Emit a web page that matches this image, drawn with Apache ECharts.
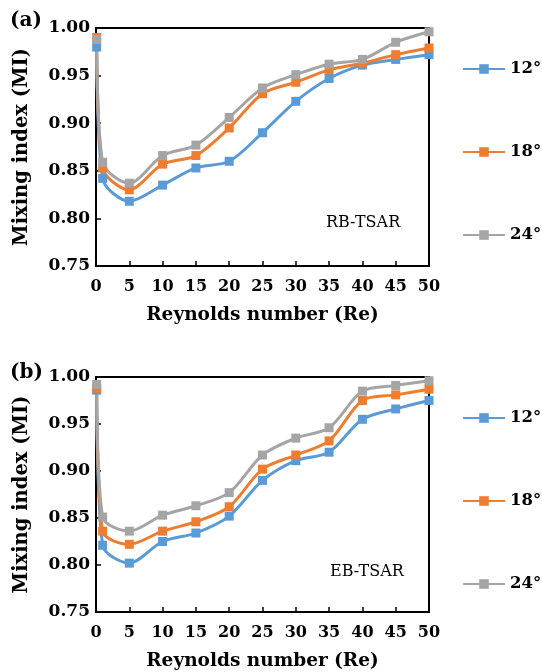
<!DOCTYPE html>
<html>
<head>
<meta charset="utf-8">
<script src="https://cdn.jsdelivr.net/npm/echarts@6/dist/echarts.min.js"></script>
<style>
html,body{margin:0;padding:0;background:#fff;}
#chart{width:542px;height:672px;}
</style>
</head>
<body>
<div id="chart"></div>
<script>
// data
var re = [0.1, 1, 5, 10, 15, 20, 25, 30, 35, 40, 45, 50];
var angles = ['12°', '18°', '24°'];
var xTicks = [0, 5, 10, 15, 20, 25, 30, 35, 40, 45, 50];
var yTicks = [0.75, 0.80, 0.85, 0.90, 0.95, 1.00];

var rb12 = [0.980, 0.842, 0.818, 0.835, 0.853, 0.860, 0.890, 0.923, 0.947, 0.961, 0.967, 0.972];
var rb18 = [0.990, 0.853, 0.830, 0.857, 0.866, 0.895, 0.931, 0.943, 0.956, 0.963, 0.972, 0.979];
var rb24 = [0.988, 0.859, 0.837, 0.866, 0.877, 0.906, 0.937, 0.951, 0.962, 0.967, 0.985, 0.996];

var eb12 = [0.986, 0.821, 0.802, 0.825, 0.834, 0.852, 0.890, 0.911, 0.920, 0.955, 0.966, 0.975];
var eb18 = [0.988, 0.836, 0.822, 0.836, 0.846, 0.862, 0.902, 0.917, 0.932, 0.975, 0.981, 0.987];
var eb24 = [0.992, 0.851, 0.836, 0.853, 0.863, 0.877, 0.917, 0.935, 0.946, 0.985, 0.991, 0.996];

(function(){
    var myChart = echarts.init(document.getElementById('chart'));
    var colors = ['#5b9bd5', '#ed7d31', '#a5a5a5'];
    var font = 'DejaVu Serif';

    function pairs(ys){
        return re.map(function(x, i){ return [x, ys[i]]; });
    }

    function xAxis(idx){
        return {
            type: 'value', gridIndex: idx,
            min: xTicks[0], max: xTicks[xTicks.length - 1], interval: 5,
            name: 'Reynolds number (Re)', nameLocation: 'middle', nameGap: 40,
            nameTextStyle: {color: '#000', fontFamily: font, fontWeight: 'bold', fontSize: 18.5},
            axisLine: {lineStyle: {color: '#000', width: 2}},
            axisTick: {inside: true, length: 5, lineStyle: {color: '#000', width: 1.5}},
            axisLabel: {color: '#000', fontFamily: font, fontWeight: 'bold', fontSize: 16, margin: 13},
            splitLine: {show: false}
        };
    }

    function yAxis(idx){
        return {
            type: 'value', gridIndex: idx,
            min: yTicks[0], max: yTicks[yTicks.length - 1], interval: 0.05,
            name: 'Mixing index (MI)', nameLocation: 'middle', nameGap: 64, nameRotate: 90,
            nameTextStyle: {color: '#000', fontFamily: font, fontWeight: 'bold', fontSize: 19.5},
            axisLine: {lineStyle: {color: '#000', width: 2}},
            axisTick: {inside: true, length: 5, lineStyle: {color: '#000', width: 1.5}},
            axisLabel: {
                color: '#000', fontFamily: font, fontWeight: 'bold', fontSize: 17, margin: 6,
                formatter: function(v){ return v.toFixed(2); }
            },
            splitLine: {show: false}
        };
    }

    function line(name, ys, c, idx){
        return {
            name: name, type: 'line', xAxisIndex: idx, yAxisIndex: idx,
            data: pairs(ys), smooth: 0.3,
            symbol: 'rect', symbolSize: 9,
            lineStyle: {color: c, width: 3},
            itemStyle: {color: c}
        };
    }

    function legend(top){
        return {
            data: angles, orient: 'vertical', left: 457, top: top,
            itemWidth: 42, itemHeight: 12, itemGap: 63,
            textStyle: {color: '#000', fontFamily: font, fontWeight: 'bold', fontSize: 16.5, lineHeight: 20}
        };
    }

    var option = {
        animation: false,
        legend: [legend(54), legend(403)],
        grid: [
            {left: 96, top: 28, width: 333, height: 238, show: true, borderColor: '#000', borderWidth: 2},
            {left: 96, top: 377, width: 333, height: 238, show: true, borderColor: '#000', borderWidth: 2}
        ],
        xAxis: [xAxis(0), xAxis(1)],
        yAxis: [yAxis(0), yAxis(1)],
        graphic: [
            {type: 'text', left: 10, top: 11, style: {text: '(a)', font: 'bold 20px "DejaVu Serif"', fill: '#000'}},
            {type: 'text', left: 10, top: 363, style: {text: '(b)', font: 'bold 20px "DejaVu Serif"', fill: '#000'}},
            {type: 'text', left: 326, top: 215, style: {text: 'RB-TSAR', font: '16px "DejaVu Serif"', fill: '#000'}},
            {type: 'text', left: 330, top: 564, style: {text: 'EB-TSAR', font: '16px "DejaVu Serif"', fill: '#000'}}
        ],
        series: [
            line(angles[0], rb12, colors[0], 0),
            line(angles[1], rb18, colors[1], 0),
            line(angles[2], rb24, colors[2], 0),
            line(angles[0], eb12, colors[0], 1),
            line(angles[1], eb18, colors[1], 1),
            line(angles[2], eb24, colors[2], 1)
        ]
    };
    myChart.setOption(option);
    window.addEventListener('resize', function(){
        myChart.resize();
    });
})();
</script>
</body>
</html>
